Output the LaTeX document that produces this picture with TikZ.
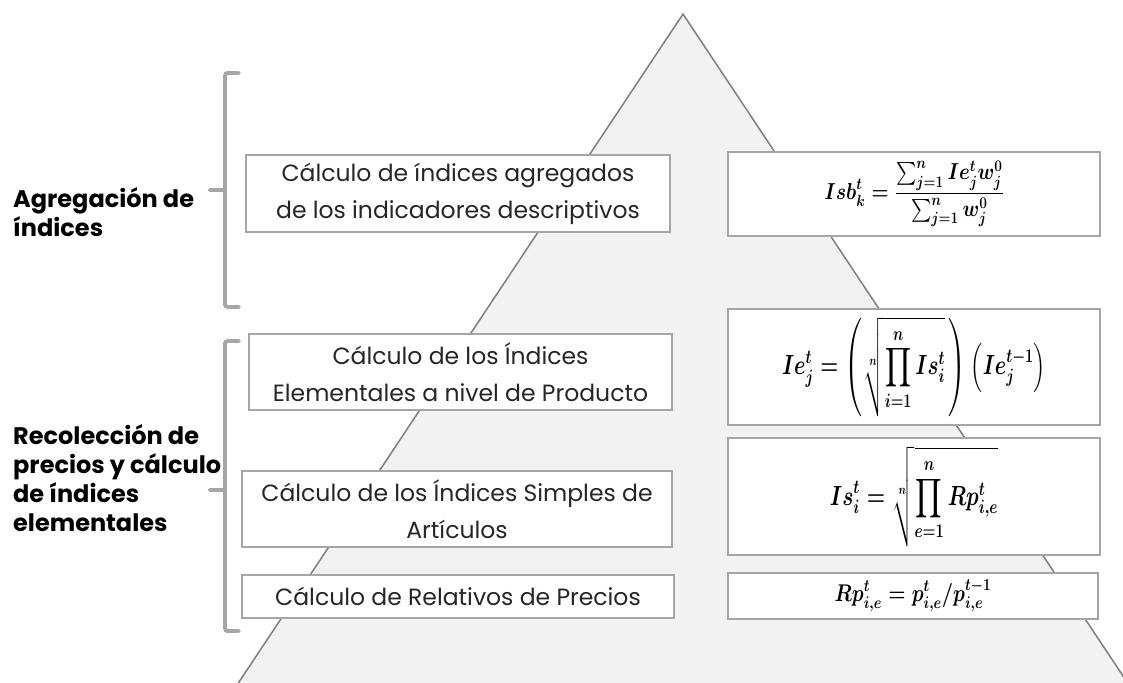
\RequirePackage{fix-cm}
\documentclass[tikz,border=0pt]{standalone}
\usepackage{amsmath,bm}
\usepackage[no-math]{fontspec}
\newfontfamily\gothic[WordSpace=0.75]{Poppins}
\newfontfamily\gothiclabel{Poppins}
\definecolor{trifill}{HTML}{F2F2F2}
\definecolor{triline}{HTML}{7F7F7F}
\definecolor{boxline}{HTML}{A6A6A6}
\definecolor{brk}{HTML}{A6A6A6}
\definecolor{txt}{HTML}{262626}
\tikzset{
  stepbox/.style={draw=boxline, fill=white, line width=1.6pt, inner sep=0pt, align=center,
    text=txt, font=\fontsize{23.5}{37}\selectfont\gothic},
  fbox/.style={draw=boxline, fill=white, line width=1.6pt, inner sep=0pt},
  fmltext/.style={inner sep=0pt, transform shape, font=\fontsize{21}{25}\selectfont\boldmath},
  grouplabel/.style={anchor=west, align=left, inner sep=0pt,
    font=\fontsize{24}{29}\selectfont\gothiclabel\bfseries},
  bracket/.style={draw=brk, line width=3.8pt, rounded corners=2.5pt, line cap=round}
}
\begin{document}
\begin{tikzpicture}[x=1pt,y=-1pt]
\useasboundingbox (0,0) rectangle (1123,682);
\begin{scope}
\clip (0,0) rectangle (1123,682);
\fill[trifill] (683,14) -- (227,700) -- (1139,700) -- cycle;
\draw[triline, line width=1.5pt] (227,700) -- (683,14) -- (1139,700);
\end{scope}
% brackets
\draw[bracket] (239,73) -- (225,73) -- (225,307) -- (239,307);
\draw[bracket] (225,190) -- (210,190);
\draw[bracket] (239,341) -- (225,341) -- (225,631) -- (239,631);
\draw[bracket] (225,490) -- (210,490);
% group labels
\node[grouplabel] (g1) at (13,212) {Agregación de\\índices};
\node[grouplabel] (g2) at (13,478) {Recolección de\\precios y cálculo\\de índices\\elementales};
% left boxes
\node[stepbox, minimum width=424pt, minimum height=77pt] (l1) at (458,193.5)
  {Cálculo de índices agregados\\de los indicadores descriptivos};
\node[stepbox, minimum width=423pt, minimum height=76pt] (l2) at (460.5,372)
  {Cálculo de los Índices\\Elementales a nivel de Producto};
\node[stepbox, minimum width=430pt, minimum height=76pt] (l3) at (457,509)
  {Cálculo de los Índices Simples de\\Artículos};
\node[stepbox, minimum width=432pt, minimum height=43pt] (l4) at (458,596.5)
  {Cálculo de Relativos de Precios};
% right boxes
\node[fbox, minimum width=372pt, minimum height=84pt] (r1) at (914,194) {};
\node[fbox, minimum width=372pt, minimum height=116pt] (r2) at (914,367) {};
\node[fbox, minimum width=372pt, minimum height=117pt] (r3) at (914,496.5) {};
\node[fbox, minimum width=370pt, minimum height=46pt] (r4) at (913,596) {};
% formulas
\node[fmltext, xscale=0.93, yscale=1.1] (f1) at (r1.center)
  {$\displaystyle Isb_k^t=\frac{\sum_{j=1}^{n} Ie_j^t w_j^0}{\sum_{j=1}^{n} w_j^0}$};
\node[fmltext, xscale=0.98, yscale=1.32] (f2) at (r2.center)
  {$\displaystyle Ie_j^t=\left(\sqrt[n]{\prod_{i=1}^{n} Is_i^t}\,\right)\left(Ie_j^{t-1}\right)$};
\node[fmltext, xscale=1.0, yscale=1.32] (f3) at (r3.center)
  {$\displaystyle Is_i^t=\sqrt[n]{\prod_{e=1}^{n} Rp_{i,e}^t}$};
\node[fmltext, xscale=0.94, yscale=1.15] (f4) at (r4.center)
  {$\displaystyle Rp_{i,e}^t=p_{i,e}^t/p_{i,e}^{t-1}$};
\end{tikzpicture}
\end{document}
